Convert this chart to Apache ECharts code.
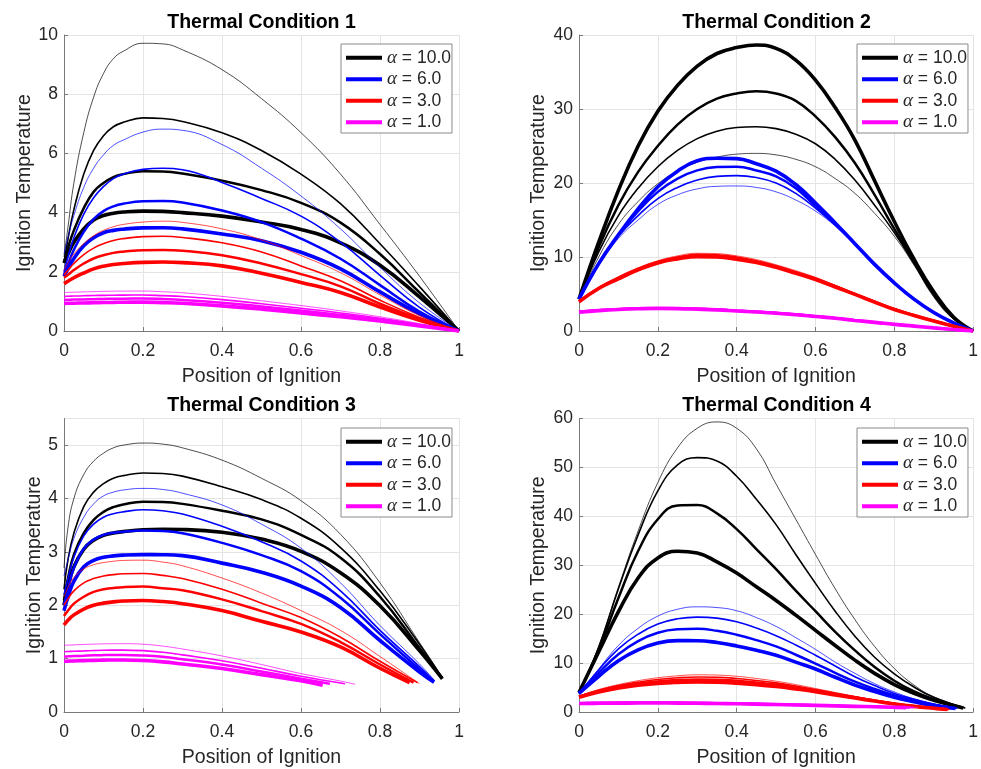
<!DOCTYPE html>
<html>
<head>
<meta charset="utf-8">
<script src="https://cdn.jsdelivr.net/npm/echarts@6/dist/echarts.min.js"></script>
<style>
  html, body { margin: 0; padding: 0; background: #ffffff; }
  #chart { width: 981px; height: 769px; }
</style>
</head>
<body>
<div id="chart"></div>
<script>
// ---- labels ----
const alphaLabels = ['α = 10.0', 'α = 6.0', 'α = 3.0', 'α = 1.0'];
const panelTitles = ['Thermal Condition 1', 'Thermal Condition 2', 'Thermal Condition 3', 'Thermal Condition 4'];
const xAxisName = 'Position of Ignition';
const yAxisName = 'Ignition Temperature';
const yMaxes = [10, 40, 5.5, 60];
const yIntervals = [2, 10, 1, 10];

// ---- Thermal Condition 1 (each group: thin -> thick line) ----
const p1X = [0, 0.01, 0.025, 0.05, 0.075, 0.1, 0.125, 0.15, 0.2, 0.25, 0.3, 0.4, 0.5, 0.6, 0.7, 0.8, 0.9];
const p1Black = [
  [2.5, 3.5, 5.0, 6.7, 7.9, 8.7, 9.2, 9.45, 9.72, 9.7, 9.5, 8.83, 7.85, 6.7, 5.3, 3.6, 1.85],
  [2.3, 3.1, 4.1, 5.3, 6.1, 6.6, 6.9, 7.05, 7.2, 7.18, 7.08, 6.7, 6.1, 5.3, 4.3, 2.95, 1.5],
  [2.3, 2.8, 3.4, 4.15, 4.7, 5.0, 5.2, 5.3, 5.4, 5.39, 5.32, 5.08, 4.76, 4.33, 3.66, 2.6, 1.3],
  [2.3, 2.6, 3.0, 3.45, 3.75, 3.9, 3.98, 4.02, 4.05, 4.04, 4.0, 3.88, 3.68, 3.43, 2.98, 2.22, 1.15]
];
const p1Blue = [
  [2.6, 3.15, 3.9, 4.85, 5.5, 5.95, 6.27, 6.45, 6.72, 6.82, 6.78, 6.3, 5.5, 4.56, 3.45, 2.15, 0.95],
  [2.0, 2.5, 3.15, 3.95, 4.5, 4.88, 5.15, 5.3, 5.46, 5.5, 5.45, 5.02, 4.48, 3.88, 3.0, 1.88, 0.8],
  [1.9, 2.25, 2.75, 3.35, 3.78, 4.05, 4.21, 4.3, 4.38, 4.39, 4.34, 4.07, 3.68, 3.12, 2.44, 1.55, 0.66],
  [1.85, 2.1, 2.45, 2.88, 3.15, 3.32, 3.4, 3.44, 3.485, 3.49, 3.45, 3.28, 3.05, 2.66, 2.1, 1.32, 0.58]
];
const p1Red = [
  [2.05, 2.3, 2.6, 2.95, 3.22, 3.4, 3.52, 3.6, 3.68, 3.71, 3.67, 3.45, 3.08, 2.55, 1.97, 1.22, 0.52],
  [1.9, 2.05, 2.28, 2.58, 2.8, 2.95, 3.06, 3.12, 3.19, 3.2, 3.16, 2.98, 2.67, 2.2, 1.7, 1.04, 0.46],
  [1.8, 1.9, 2.06, 2.28, 2.45, 2.56, 2.64, 2.68, 2.73, 2.735, 2.71, 2.56, 2.28, 1.92, 1.51, 0.92, 0.41],
  [1.6, 1.68, 1.8, 1.96, 2.1, 2.19, 2.245, 2.28, 2.32, 2.33, 2.31, 2.2, 1.95, 1.64, 1.3, 0.81, 0.36]
];
const p1Pink = [
  [1.3, 1.305, 1.31, 1.32, 1.33, 1.34, 1.345, 1.348, 1.35, 1.325, 1.29, 1.17, 1.02, 0.86, 0.68, 0.48, 0.25],
  [1.17, 1.175, 1.18, 1.19, 1.2, 1.205, 1.209, 1.212, 1.215, 1.195, 1.165, 1.06, 0.92, 0.77, 0.61, 0.43, 0.22],
  [1.05, 1.055, 1.06, 1.068, 1.076, 1.083, 1.088, 1.092, 1.095, 1.078, 1.05, 0.955, 0.83, 0.69, 0.545, 0.385, 0.2],
  [0.93, 0.935, 0.94, 0.948, 0.955, 0.962, 0.967, 0.972, 0.975, 0.96, 0.935, 0.85, 0.74, 0.61, 0.48, 0.34, 0.17]
];
const p1EndX = [[1, 1, 1, 1], [1, 1, 1, 1], [1, 1, 1, 1], [1, 1, 1, 1]];
const p1EndY = [[0, 0, 0, 0], [0, 0, 0, 0], [0, 0, 0, 0], [0, 0, 0, 0]];

// ---- Thermal Condition 2 ----
const p2X = [0, 0.05, 0.1, 0.15, 0.2, 0.25, 0.3, 0.35, 0.4, 0.45, 0.5, 0.55, 0.6, 0.65, 0.7, 0.75, 0.8, 0.85, 0.9, 0.95];
const p2Black = [
  [4.3, 10.0, 14.4, 17.5, 19.9, 21.6, 22.8, 23.5, 23.9, 24.0, 23.8, 23.2, 22.2, 20.6, 18.6, 15.9, 12.8, 8.9, 4.6, 1.6],
  [4.3, 10.7, 15.6, 19.3, 22.2, 24.4, 26.0, 27.0, 27.5, 27.6, 27.35, 26.6, 25.3, 23.2, 20.4, 17.0, 13.3, 9.1, 4.8, 1.7],
  [4.3, 11.3, 17.0, 21.5, 25.0, 27.9, 30.0, 31.4, 32.1, 32.4, 32.1, 31.1, 29.0, 26.2, 22.7, 18.4, 13.8, 9.3, 5.0, 1.8],
  [4.3, 12.0, 19.0, 25.0, 29.7, 33.2, 35.8, 37.5, 38.3, 38.65, 38.2, 36.6, 33.9, 30.2, 25.8, 20.3, 14.8, 9.7, 5.3, 1.9]
];
const p2Blue = [
  [4.3, 8.9, 12.5, 15.0, 17.1, 18.4, 19.2, 19.55, 19.6, 19.4, 18.8, 17.7, 16.2, 14.2, 11.8, 9.0, 6.5, 4.3, 2.5, 1.1],
  [4.3, 9.0, 12.8, 15.6, 17.9, 19.4, 20.4, 20.9, 21.0, 20.75, 20.0, 18.6, 16.6, 14.3, 11.8, 9.0, 6.5, 4.3, 2.5, 1.1],
  [4.3, 9.1, 13.0, 16.2, 18.8, 20.6, 21.7, 22.15, 22.2, 21.7, 20.9, 19.3, 16.9, 14.4, 11.8, 9.0, 6.5, 4.3, 2.5, 1.1],
  [4.3, 9.1, 13.0, 16.5, 19.5, 21.6, 23.0, 23.35, 23.3, 22.6, 21.6, 19.8, 17.3, 14.6, 11.8, 9.0, 6.5, 4.3, 2.5, 1.1]
];
const p2Red = [
  [4.0, 5.9, 7.35, 8.55, 9.5, 10.15, 10.5, 10.45, 10.15, 9.65, 8.95, 8.15, 7.25, 6.2, 5.1, 4.05, 3.05, 2.2, 1.42, 0.7],
  [4.0, 5.85, 7.25, 8.45, 9.4, 10.0, 10.35, 10.3, 10.0, 9.5, 8.8, 8.0, 7.15, 6.1, 5.05, 4.0, 3.0, 2.17, 1.4, 0.68],
  [4.0, 5.8, 7.15, 8.35, 9.3, 9.9, 10.2, 10.15, 9.85, 9.35, 8.7, 7.9, 7.05, 6.05, 5.0, 3.95, 2.95, 2.13, 1.38, 0.67],
  [3.95, 5.75, 7.05, 8.25, 9.2, 9.75, 10.05, 10.0, 9.7, 9.25, 8.6, 7.8, 6.95, 5.95, 4.95, 3.9, 2.9, 2.1, 1.35, 0.65]
];
const p2Pink = [
  [2.7, 2.9, 3.05, 3.15, 3.2, 3.18, 3.1, 3.0, 2.85, 2.7, 2.55, 2.33, 2.08, 1.81, 1.52, 1.23, 0.95, 0.7, 0.45, 0.22],
  [2.65, 2.85, 3.0, 3.1, 3.15, 3.13, 3.05, 2.95, 2.8, 2.66, 2.5, 2.29, 2.04, 1.78, 1.49, 1.21, 0.93, 0.69, 0.44, 0.21],
  [2.6, 2.8, 2.95, 3.05, 3.1, 3.08, 3.0, 2.9, 2.75, 2.61, 2.45, 2.25, 2.0, 1.75, 1.46, 1.19, 0.91, 0.68, 0.43, 0.21],
  [2.55, 2.75, 2.9, 3.0, 3.05, 3.03, 2.95, 2.85, 2.7, 2.56, 2.4, 2.2, 1.96, 1.72, 1.43, 1.17, 0.89, 0.66, 0.42, 0.2]
];
const p2EndX = [[1, 1, 1, 1], [1, 1, 1, 1], [1, 1, 1, 1], [1, 1, 1, 1]];
const p2EndY = [[0, 0, 0, 0], [0, 0, 0, 0], [0, 0, 0, 0], [0, 0, 0, 0]];

// ---- Thermal Condition 3 (curves stop before x = 1) ----
const p3X = [0, 0.01, 0.025, 0.05, 0.075, 0.1, 0.125, 0.15, 0.2, 0.25, 0.3, 0.4, 0.5, 0.6, 0.7, 0.8, 0.9];
const p3Black = [
  [2.7, 3.45, 4.0, 4.45, 4.7, 4.85, 4.95, 5.0, 5.04, 5.02, 4.95, 4.72, 4.38, 3.96, 3.33, 2.42, 1.3],
  [2.3, 2.85, 3.35, 3.85, 4.12, 4.28, 4.38, 4.43, 4.48, 4.47, 4.42, 4.22, 3.98, 3.63, 3.08, 2.27, 1.27],
  [2.1, 2.5, 2.95, 3.35, 3.6, 3.75, 3.84, 3.89, 3.94, 3.935, 3.9, 3.77, 3.61, 3.32, 2.89, 2.16, 1.2],
  [2.0, 2.35, 2.72, 3.05, 3.22, 3.31, 3.355, 3.38, 3.415, 3.425, 3.42, 3.37, 3.24, 3.01, 2.61, 1.99, 1.15]
];
const p3Blue = [
  [2.55, 2.85, 3.25, 3.65, 3.9, 4.05, 4.12, 4.16, 4.19, 4.17, 4.1, 3.88, 3.52, 3.07, 2.42, 1.62, 0.9],
  [2.2, 2.5, 2.9, 3.3, 3.52, 3.65, 3.715, 3.75, 3.79, 3.77, 3.71, 3.48, 3.19, 2.83, 2.27, 1.53, 0.85],
  [2.0, 2.3, 2.7, 3.06, 3.23, 3.32, 3.358, 3.38, 3.4, 3.39, 3.35, 3.17, 2.94, 2.64, 2.14, 1.46, 0.8],
  [1.9, 2.15, 2.45, 2.72, 2.84, 2.9, 2.925, 2.94, 2.95, 2.948, 2.93, 2.79, 2.62, 2.36, 1.96, 1.34, 0.75]
];
const p3Red = [
  [2.15, 2.33, 2.52, 2.68, 2.76, 2.8, 2.825, 2.84, 2.845, 2.81, 2.74, 2.51, 2.23, 1.9, 1.53, 1.04, null],
  [2.0, 2.12, 2.27, 2.42, 2.5, 2.55, 2.575, 2.59, 2.595, 2.56, 2.5, 2.3, 2.04, 1.77, 1.4, 0.95, null],
  [1.8, 1.9, 2.03, 2.16, 2.25, 2.3, 2.324, 2.34, 2.35, 2.32, 2.28, 2.11, 1.89, 1.65, 1.31, 0.89, null],
  [1.63, 1.72, 1.82, 1.93, 2.0, 2.04, 2.064, 2.08, 2.09, 2.07, 2.03, 1.9, 1.7, 1.5, 1.22, 0.82, null]
];
const p3Pink = [
  [1.25, 1.253, 1.258, 1.265, 1.272, 1.277, 1.279, 1.28, 1.27, 1.235, 1.18, 1.05, 0.89, 0.72, 0.58, null, null],
  [1.13, 1.133, 1.138, 1.145, 1.152, 1.157, 1.159, 1.16, 1.15, 1.12, 1.07, 0.96, 0.82, 0.67, null, null, null],
  [1.04, 1.043, 1.048, 1.055, 1.062, 1.066, 1.068, 1.07, 1.06, 1.035, 0.99, 0.89, 0.76, 0.625, null, null, null],
  [0.95, 0.953, 0.957, 0.963, 0.968, 0.972, 0.974, 0.975, 0.965, 0.94, 0.9, 0.815, 0.7, 0.585, null, null, null]
];
const p3EndX = [[0.958, 0.956, 0.957, 0.958], [0.937, 0.937, 0.937, 0.937], [0.9, 0.895, 0.885, 0.875], [0.737, 0.711, 0.673, 0.655]];
const p3EndY = [[0.65, 0.65, 0.64, 0.62], [0.6, 0.58, 0.57, 0.56], [0.53, 0.55, 0.55, 0.55], [0.52, 0.53, 0.53, 0.5]];

// ---- Thermal Condition 4 ----
const p4X = [0, 0.05, 0.1, 0.15, 0.2, 0.25, 0.3, 0.35, 0.4, 0.45, 0.5, 0.55, 0.6, 0.65, 0.7, 0.75, 0.8, 0.85, 0.9];
const p4Black = [
  [4.0, 13.5, 25.5, 37.0, 46.9, 54.0, 58.0, 59.3, 58.0, 53.8, 46.6, 39.4, 32.2, 25.2, 18.9, 13.4, 8.9, 5.5, 3.1],
  [4.0, 13.2, 25.2, 36.2, 45.2, 50.5, 52.0, 51.3, 48.2, 43.5, 38.3, 32.2, 26.3, 20.6, 15.5, 11.2, 7.8, 5.1, 3.0],
  [4.0, 12.8, 23.3, 32.9, 39.4, 42.2, 42.3, 40.6, 37.4, 33.3, 29.2, 24.8, 20.6, 16.4, 12.6, 9.2, 6.4, 4.2, 2.6],
  [4.0, 12.3, 20.5, 27.4, 31.5, 32.85, 32.5, 30.7, 28.4, 25.6, 22.8, 19.8, 16.7, 13.6, 10.6, 7.9, 5.6, 3.8, 2.4]
];
const p4Blue = [
  [3.8, 8.8, 13.6, 17.1, 19.6, 21.0, 21.5, 21.35, 20.7, 19.3, 17.5, 15.2, 12.8, 10.2, 7.9, 5.8, 4.1, 2.7, 1.7],
  [3.8, 8.6, 12.9, 15.9, 18.0, 19.05, 19.4, 19.2, 18.45, 17.15, 15.6, 13.7, 11.6, 9.4, 7.2, 5.4, 3.8, 2.6, 1.6],
  [3.8, 8.0, 11.8, 14.5, 16.2, 16.9, 17.0, 16.6, 15.8, 14.7, 13.4, 11.7, 9.9, 8.0, 6.2, 4.7, 3.4, 2.3, 1.5],
  [3.8, 7.3, 10.5, 12.7, 14.1, 14.6, 14.58, 14.2, 13.5, 12.6, 11.6, 10.2, 8.8, 7.1, 5.5, 4.2, 3.0, 2.1, 1.3]
];
const p4Red = [
  [3.3, 4.6, 5.6, 6.4, 7.0, 7.4, 7.6, 7.55, 7.3, 6.85, 6.3, 5.6, 4.8, 4.0, 3.2, 2.45, 1.8, 1.25, 0.85],
  [3.2, 4.45, 5.4, 6.1, 6.65, 7.0, 7.15, 7.1, 6.85, 6.45, 5.95, 5.3, 4.6, 3.85, 3.1, 2.4, 1.75, 1.22, 0.8],
  [3.1, 4.3, 5.15, 5.8, 6.25, 6.55, 6.65, 6.6, 6.4, 6.05, 5.6, 5.0, 4.4, 3.7, 3.0, 2.33, 1.7, 1.2, 0.8],
  [3.0, 4.1, 4.9, 5.5, 5.85, 6.05, 6.15, 6.1, 5.9, 5.6, 5.2, 4.7, 4.15, 3.5, 2.85, 2.23, 1.65, 1.15, 0.75]
];
const p4Pink = [
  [1.95, 2.0, 2.03, 2.05, 2.052, 2.04, 2.0, 1.95, 1.88, 1.8, 1.7, 1.6, 1.5, 1.39, 1.28, 1.17, 1.05, 0.95, null],
  [1.87, 1.92, 1.95, 1.97, 1.972, 1.96, 1.92, 1.87, 1.8, 1.72, 1.63, 1.54, 1.44, 1.34, 1.23, 1.12, 1.01, null, null],
  [1.8, 1.85, 1.88, 1.9, 1.902, 1.89, 1.85, 1.8, 1.74, 1.66, 1.57, 1.48, 1.39, 1.29, 1.19, 1.09, 0.98, null, null],
  [1.73, 1.78, 1.81, 1.83, 1.832, 1.82, 1.78, 1.74, 1.68, 1.6, 1.52, 1.44, 1.35, 1.26, 1.16, 1.06, 0.96, null, null]
];
const p4EndX = [[0.98, 0.98, 0.975, 0.975], [0.96, 0.96, 0.955, 0.955], [0.94, 0.94, 0.935, 0.935], [0.86, 0.85, 0.84, 0.83]];
const p4EndY = [[0.8, 0.8, 0.8, 0.8], [0.8, 0.75, 0.7, 0.7], [0.5, 0.5, 0.5, 0.5], [0.92, 0.9, 0.9, 0.9]];

// ---- styling ----
const FONT = '"Liberation Sans", Arial, Helvetica, sans-serif';
const groupColors = ['#000000', '#0000ff', '#ff0000', '#ff00ff'];
const lineWidths = [0.7, 1.6, 2.5, 3.6];
const textColor = '#262626';

const panelData = [
  { x: p1X, groups: [p1Black, p1Blue, p1Red, p1Pink], endX: p1EndX, endY: p1EndY },
  { x: p2X, groups: [p2Black, p2Blue, p2Red, p2Pink], endX: p2EndX, endY: p2EndY },
  { x: p3X, groups: [p3Black, p3Blue, p3Red, p3Pink], endX: p3EndX, endY: p3EndY },
  { x: p4X, groups: [p4Black, p4Blue, p4Red, p4Pink], endX: p4EndX, endY: p4EndY }
];

const gridBoxes = [
  { left: 64, top: 35, width: 395, height: 296 },
  { left: 579, top: 35, width: 395, height: 296 },
  { left: 64, top: 418.5, width: 395, height: 295.5 },
  { left: 579, top: 418.5, width: 395, height: 295.5 }
];
const yNameGaps = [29, 30, 18, 30];
const titleTops = [13, 13, 396, 396];
const legendBoxes = [
  { left: 341, top: 44 }, { left: 857, top: 44 },
  { left: 341, top: 428 }, { left: 857, top: 428 }
];

const series = [];
panelData.forEach((pd, p) => {
  pd.groups.forEach((group, g) => {
    group.forEach((vals, w) => {
      const pts = [];
      vals.forEach((v, i) => { if (v !== null) pts.push([pd.x[i], v]); });
      pts.push([pd.endX[g][w], pd.endY[g][w]]);
      series.push({
        type: 'line',
        name: alphaLabels[g],
        xAxisIndex: p,
        yAxisIndex: p,
        data: pts,
        symbol: 'none',
        showSymbol: false,
        smooth: 0.45,
        silent: true,
        z: 2 + g,
        itemStyle: { color: groupColors[g] },
        lineStyle: { color: groupColors[g], width: lineWidths[w] }
      });
    });
  });
});

const axisLineStyle = { color: '#7a7a7a', width: 1 };
const gridLineStyle = { color: '#e4e4e4', width: 1 };

const option = {
  animation: false,
  backgroundColor: '#ffffff',
  title: panelTitles.map((t, p) => ({
    text: t,
    left: gridBoxes[p].left + gridBoxes[p].width / 2,
    top: titleTops[p],
    textAlign: 'center',
    padding: 0,
    textStyle: { fontFamily: FONT, fontWeight: 'bold', fontSize: 19.5, color: '#000000' }
  })),
  grid: gridBoxes.map(b => Object.assign({ containLabel: false }, b)),
  xAxis: gridBoxes.map((b, p) => ({
    type: 'value',
    gridIndex: p,
    min: 0, max: 1, interval: 0.2,
    name: xAxisName,
    nameLocation: 'middle',
    nameGap: 36,
    nameTextStyle: { fontFamily: FONT, fontSize: 19.5, color: textColor },
    axisLine: { show: true, onZero: false, lineStyle: axisLineStyle },
    axisTick: { show: true, inside: true, length: 4, lineStyle: axisLineStyle },
    axisLabel: { fontFamily: FONT, fontSize: 17.5, color: textColor, margin: 11 },
    splitLine: { show: true, lineStyle: gridLineStyle }
  })),
  yAxis: gridBoxes.map((b, p) => ({
    type: 'value',
    gridIndex: p,
    min: 0, max: yMaxes[p], interval: yIntervals[p],
    name: yAxisName,
    nameLocation: 'middle',
    nameGap: yNameGaps[p],
    nameTextStyle: { fontFamily: FONT, fontSize: 19.5, color: textColor },
    axisLine: { show: true, onZero: false, lineStyle: axisLineStyle },
    axisTick: { show: true, inside: true, length: 4, lineStyle: axisLineStyle },
    axisLabel: { fontFamily: FONT, fontSize: 17.5, color: textColor, margin: 6, showMaxLabel: p !== 2 },
    splitLine: { show: true, lineStyle: gridLineStyle }
  })),
  legend: legendBoxes.map(b => ({
    left: b.left,
    top: b.top,
    orient: 'vertical',
    selectedMode: false,
    icon: 'rect',
    itemWidth: 36,
    itemHeight: 4,
    itemGap: 0,
    padding: [3, 1, 0, 5],
    borderColor: '#8a8a8a',
    borderWidth: 1,
    borderRadius: 0,
    backgroundColor: '#ffffff',
    data: alphaLabels.map((n, i) => ({ name: n, itemStyle: { color: groupColors[i] } })),
    formatter: n => n.replace('α', '{a|α}'),
    textStyle: {
      fontFamily: FONT, fontSize: 17.5, color: textColor, lineHeight: 21.5,
      rich: { a: { fontFamily: '"Liberation Serif", "DejaVu Serif", serif', fontStyle: 'italic', fontSize: 19, color: textColor, lineHeight: 21.5 } }
    }
  })),
  series: series
};

const chart = echarts.init(document.getElementById('chart'), null, { renderer: 'canvas' });
chart.setOption(option);
</script>
</body>
</html>
